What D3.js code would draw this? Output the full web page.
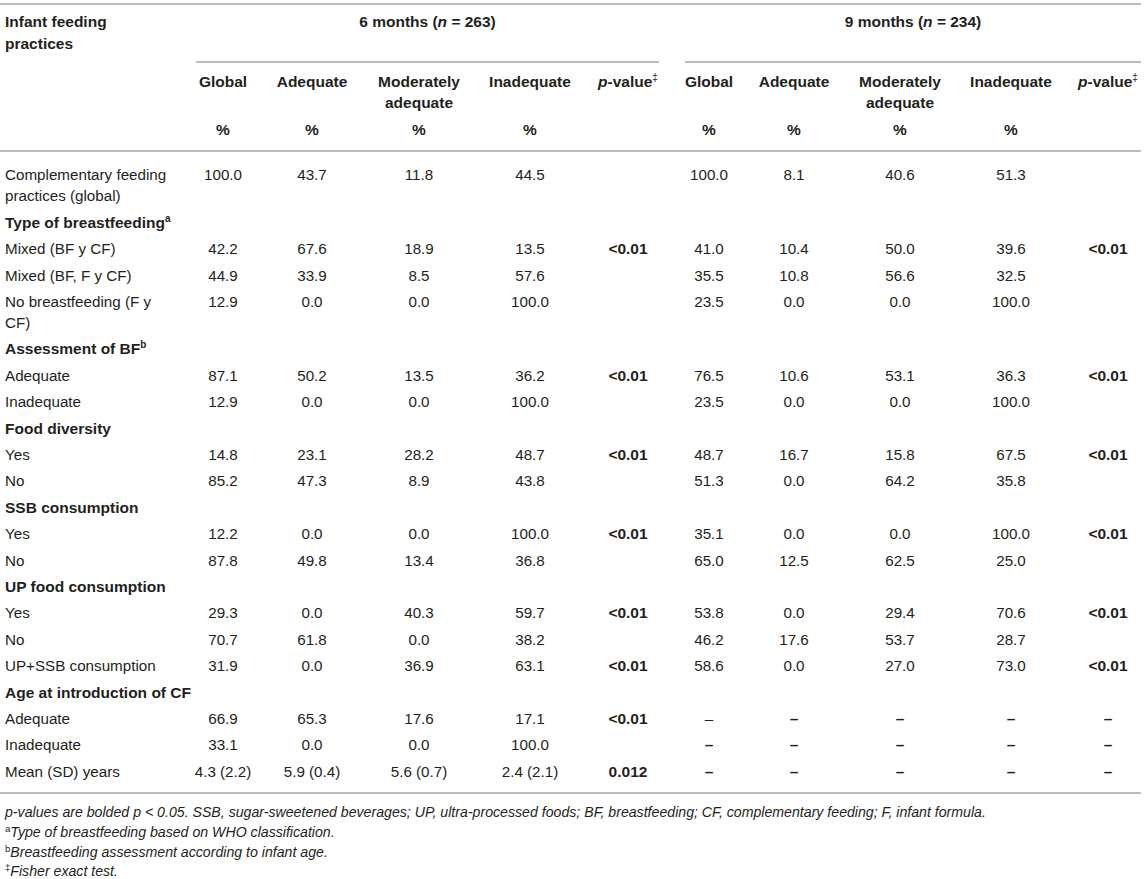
<!DOCTYPE html>
<html>
<head>
<meta charset="utf-8">
<script src="https://cdn.jsdelivr.net/npm/d3@7/dist/d3.min.js"></script>
<style>
  html, body { margin: 0; padding: 0; background: #fff; }
  svg { display: block; }
  text { font-family: "Liberation Sans", Arial, Helvetica, sans-serif; fill: #231f20; }
</style>
</head>
<body>
<div id="chart"></div>
<script>
// ---------------- DATA ----------------
const groupTitles = [
  { pre: "6 months (", n: "n", post: " = 263)" },
  { pre: "9 months (", n: "n", post: " = 234)" }
];
const stubTitle = ["Infant feeding", "practices"];
const columnKeys = ["m6Global","m6Adequate","m6Moderate","m6Inadequate","m6P",
                    "m9Global","m9Adequate","m9Moderate","m9Inadequate","m9P"];
const columnTitles = [["Global"],["Adequate"],["Moderately","adequate"],["Inadequate"],["p-value"],
                      ["Global"],["Adequate"],["Moderately","adequate"],["Inadequate"],["p-value"]];
const columnUnits = ["%","%","%","%","","%","%","%","%",""];

const rowLabels = [
  ["Complementary feeding","practices (global)"],
  ["Type of breastfeeding"],
  ["Mixed (BF y CF)"],
  ["Mixed (BF, F y CF)"],
  ["No breastfeeding (F y","CF)"],
  ["Assessment of BF"],
  ["Adequate"],
  ["Inadequate"],
  ["Food diversity"],
  ["Yes"],
  ["No"],
  ["SSB consumption"],
  ["Yes"],
  ["No"],
  ["UP food consumption"],
  ["Yes"],
  ["No"],
  ["UP+SSB consumption"],
  ["Age at introduction of CF"],
  ["Adequate"],
  ["Inadequate"],
  ["Mean (SD) years"]
];
const sectionRows = [1, 5, 8, 11, 14, 18];
const rowSuperscripts = { 1: "a", 5: "b" };

const m6Global     = ["100.0",null,"42.2","44.9","12.9",null,"87.1","12.9",null,"14.8","85.2",null,"12.2","87.8",null,"29.3","70.7","31.9",null,"66.9","33.1","4.3 (2.2)"];
const m6Adequate   = ["43.7",null,"67.6","33.9","0.0",null,"50.2","0.0",null,"23.1","47.3",null,"0.0","49.8",null,"0.0","61.8","0.0",null,"65.3","0.0","5.9 (0.4)"];
const m6Moderate   = ["11.8",null,"18.9","8.5","0.0",null,"13.5","0.0",null,"28.2","8.9",null,"0.0","13.4",null,"40.3","0.0","36.9",null,"17.6","0.0","5.6 (0.7)"];
const m6Inadequate = ["44.5",null,"13.5","57.6","100.0",null,"36.2","100.0",null,"48.7","43.8",null,"100.0","36.8",null,"59.7","38.2","63.1",null,"17.1","100.0","2.4 (2.1)"];
const m6P          = ["",null,"<0.01","","",null,"<0.01","",null,"<0.01","",null,"<0.01","",null,"<0.01","","<0.01",null,"<0.01","","0.012"];
const m9Global     = ["100.0",null,"41.0","35.5","23.5",null,"76.5","23.5",null,"48.7","51.3",null,"35.1","65.0",null,"53.8","46.2","58.6",null,"–","–","–"];
const m9Adequate   = ["8.1",null,"10.4","10.8","0.0",null,"10.6","0.0",null,"16.7","0.0",null,"0.0","12.5",null,"0.0","17.6","0.0",null,"–","–","–"];
const m9Moderate   = ["40.6",null,"50.0","56.6","0.0",null,"53.1","0.0",null,"15.8","64.2",null,"0.0","62.5",null,"29.4","53.7","27.0",null,"–","–","–"];
const m9Inadequate = ["51.3",null,"39.6","32.5","100.0",null,"36.3","100.0",null,"67.5","35.8",null,"100.0","25.0",null,"70.6","28.7","73.0",null,"–","–","–"];
const m9P          = ["",null,"<0.01","","",null,"<0.01","",null,"<0.01","",null,"<0.01","",null,"<0.01","","<0.01",null,"–","–","–"];
const regularDashCells = [[19, "m9Global"]];

const footnotes = [
  { sup: "", text: "p-values are bolded p < 0.05. SSB, sugar-sweetened beverages; UP, ultra-processed foods; BF, breastfeeding; CF, complementary feeding; F, infant formula." },
  { sup: "a", text: "Type of breastfeeding based on WHO classification." },
  { sup: "b", text: "Breastfeeding assessment according to infant age." },
  { sup: "‡", text: "Fisher exact test." }
];

// ---------------- LAYOUT ----------------
const W = 1146, H = 879;
const FS = 15.2, FSB = 15.5;
const colCenters = [223, 312, 419, 530, 628, 709, 794, 900, 1011, 1108];
const groupSpans = [[196, 659], [685, 1141]];
const lineColor = "#bcbcbc";
const rowPitch = 26.4, wrapLine = 21, firstRowY = 175;

const columns = { m6Global, m6Adequate, m6Moderate, m6Inadequate, m6P,
                  m9Global, m9Adequate, m9Moderate, m9Inadequate, m9P };

const x = d3.scaleOrdinal().domain(columnKeys).range(colCenters);
const rowHeights = rowLabels.map(l => rowPitch + wrapLine * (l.length - 1));
const rowTops = [0, ...d3.cumsum(rowHeights)].slice(0, rowLabels.length);
const y = d3.scaleLinear().domain([0, 1]).range([firstRowY, firstRowY + 1]);

const svg = d3.select("#chart").append("svg").attr("width", W).attr("height", H);
const base = 5.3; // center -> baseline offset

function hline(x1, x2, yy) {
  svg.append("line").attr("x1", x1).attr("x2", x2).attr("y1", yy).attr("y2", yy)
    .attr("stroke", lineColor).attr("stroke-width", 2);
}

// rules
hline(0, 1141, 4);
groupSpans.forEach(s => hline(s[0], s[1], 62));
hline(0, 1141, 151);
hline(0, 1141, 793);

// stub title
stubTitle.forEach((t, i) => {
  svg.append("text").attr("x", 5).attr("y", 22 + i * 22 + base)
    .attr("font-size", FSB).attr("font-weight", "bold").text(t);
});

// group titles
groupTitles.forEach((g, i) => {
  const t = svg.append("text").attr("x", (groupSpans[i][0] + groupSpans[i][1]) / 2)
    .attr("y", 22 + base).attr("text-anchor", "middle")
    .attr("font-size", FSB).attr("font-weight", "bold");
  t.append("tspan").text(g.pre);
  t.append("tspan").attr("font-style", "italic").text(g.n);
  t.append("tspan").text(g.post);
});

// column headers
columnKeys.forEach((k, i) => {
  const cx = x(k);
  columnTitles[i].forEach((line, j) => {
    const t = svg.append("text").attr("x", cx).attr("y", 82 + j * 21 + base)
      .attr("text-anchor", "middle").attr("font-size", FSB).attr("font-weight", "bold");
    if (line === "p-value") {
      t.append("tspan").attr("font-style", "italic").text("p");
      t.append("tspan").text("-value");
      t.append("tspan").attr("font-size", 10).attr("font-weight", "normal")
        .attr("dy", -6).text("‡");
    } else {
      t.text(line);
    }
  });
  if (columnUnits[i]) {
    svg.append("text").attr("x", cx).attr("y", 130 + base).attr("text-anchor", "middle")
      .attr("font-size", FSB).attr("font-weight", "bold").text(columnUnits[i]);
  }
});

// body rows
rowLabels.forEach((lines, r) => {
  const cy = y(rowTops[r]);
  const isSection = sectionRows.includes(r);
  lines.forEach((line, j) => {
    const t = svg.append("text").attr("x", 5).attr("y", cy + j * wrapLine + base)
      .attr("font-size", isSection ? FSB : FS).attr("font-weight", isSection ? "bold" : "normal").text(line);
    if (j === lines.length - 1 && rowSuperscripts[r]) {
      t.append("tspan").attr("font-size", 10).attr("dy", -6).text(rowSuperscripts[r]);
    }
  });
  columnKeys.forEach(k => {
    const v = columns[k][r];
    if (v == null || v === "") return;
    const isP = k.endsWith("P");
    const isDash = v === "–";
    const regular = regularDashCells.some(c => c[0] === r && c[1] === k);
    const bold = (isP || isDash) && !regular;
    svg.append("text").attr("x", x(k)).attr("y", cy + base).attr("text-anchor", "middle")
      .attr("font-size", bold ? FSB : FS).attr("font-weight", bold ? "bold" : "normal")
      .attr("fill", regular ? "#555" : null)
      .text(v);
  });
});

// footnotes
const fnY = [812, 832, 852, 871];
footnotes.forEach((f, i) => {
  const t = svg.append("text").attr("x", 5).attr("y", fnY[i] + 5)
    .attr("font-size", 14.15).attr("font-style", "italic");
  if (f.sup) {
    t.append("tspan").attr("font-size", 9.5).attr("font-style", "normal").attr("dy", -5).text(f.sup);
    t.append("tspan").attr("dy", 5).text(f.text);
  } else {
    t.text(f.text);
  }
});
</script>
</body>
</html>
